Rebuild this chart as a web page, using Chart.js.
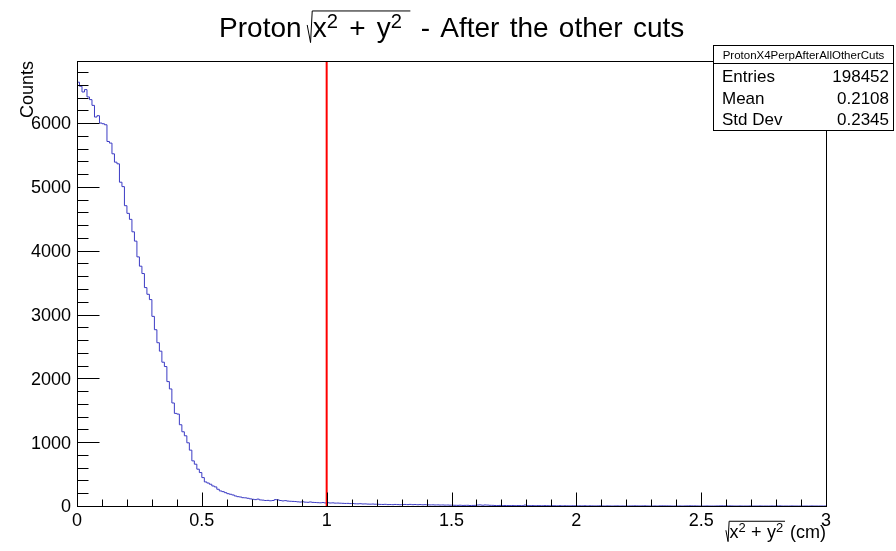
<!DOCTYPE html>
<html>
<head>
<meta charset="utf-8">
<script src="https://cdn.jsdelivr.net/npm/chart.js@4.4.1/dist/chart.umd.min.js"></script>
<style>
  html, body { margin: 0; padding: 0; background: #fff; }
</style>
</head>
<body>
<canvas id="chart" width="896" height="551"></canvas>
<script>
const FONT = "'Liberation Sans', Arial, sans-serif";

// histogram binning
const binLow = 0;
const binHigh = 3;
const nBins = 300;

// bin contents
const counts = [
  6640, 6576, 6487, 6524, 6409, 6367, 6277, 6094, 6115, 6000,
  5989, 5973, 5711, 5686, 5518, 5387, 5361, 5073, 5004, 4705,
  4585, 4491, 4296, 4150, 3903, 3757, 3642, 3422, 3317, 3234,
  2971, 2762, 2558, 2426, 2253, 2185, 1949, 1834, 1614, 1451,
  1440, 1273, 1163, 1100, 990, 875, 707, 655, 577, 524,
  445, 377, 360, 341, 314, 299, 262, 236, 225, 209,
  193, 184, 173, 157, 146, 141, 130, 128, 121, 112,
  105, 100, 108, 95, 92, 86, 88, 82, 86, 100,
  96, 86, 80, 84, 77, 74, 72, 70, 65, 62,
  66, 60, 58, 63, 57, 55, 52, 50, 54, 48,
  51, 47, 49, 45, 46, 44, 42, 40, 41, 38,
  39, 35, 34, 36, 32, 33, 30, 29, 31, 28,
  27, 25, 24, 26, 22, 23, 21, 24, 22, 20,
  23, 24, 22, 25, 21, 23, 20, 22, 19, 21,
  18, 17, 18, 16, 17, 15, 16, 14, 15, 13,
  12, 11, 10, 12, 9, 10, 11, 8, 9, 10,
  15, 17, 12, 16, 14, 11, 10, 8, 7, 9,
  6, 8, 7, 6, 8, 5, 7, 6, 5, 14,
  6, 5, 7, 4, 6, 5, 4, 6, 5, 3,
  5, 4, 3, 5, 2, 4, 3, 2, 4, 3,
  2, 3, 2, 4, 1, 3, 2, 1, 2, 3,
  1, 0, 2, 1, 0, 1, 2, 0, 1, 0,
  0, 1, 2, 3, 2, 1, 2, 3, 1, 0,
  0, 1, 0, 2, 3, 2, 2, 1, 0, 0,
  0, 1, 0, 1, 2, 3, 2, 2, 1, 0,
  0, 0, 1, 0, 0, 0, 1, 2, 3, 2,
  2, 2, 1, 0, 0, 1, 0, 0, 0, 1,
  0, 0, 0, 1, 0, 0, 0, 0, 1, 0,
  2, 2, 0, 0, 0, 0, 1, 0, 0, 0,
  0, 0, 0, 0, 1, 0, 0, 0, 0, 0
];

const cutValue = 1;

const xMajorTicks = [0, 0.5, 1, 1.5, 2, 2.5, 3];
const xTickLabels = ['0', '0.5', '1', '1.5', '2', '2.5', '3'];
const xMinorStep = 0.1;
const yMajorTicks = [0, 1000, 2000, 3000, 4000, 5000, 6000];
const yTickLabels = ['0', '1000', '2000', '3000', '4000', '5000', '6000'];
const yMinorStep = 200;

const statsName = 'ProtonX4PerpAfterAllOtherCuts';
const statsLabels = ['Entries', 'Mean', 'Std Dev'];
const statsValues = ['198452', '0.2108', '0.2345'];

const yMax = Math.max(...counts) * 1.05;
const binWidth = (binHigh - binLow) / nBins;

const histPoints = counts.map((c, i) => ({ x: binLow + i * binWidth, y: c }));
histPoints.push({ x: binHigh, y: counts[counts.length - 1] });

// draws  sqrt(x^2 + y^2)  with a radical sign, returns its width
function drawSqrt(ctx, x, base, size, gap, pad, dryRun) {
  const sup = size * 0.72;
  let cx = x + size * 0.2;
  const parts = [['x', 0], ['2', 1], ['+', 2], ['y', 0], ['2', 1]];
  parts.forEach(([t, kind]) => {
    ctx.font = (kind === 1 ? sup : size) + 'px ' + FONT;
    if (kind === 2) cx += size * gap;
    const w = ctx.measureText(t).width;
    if (!dryRun) {
      ctx.fillText(t, cx, kind === 1 ? base - size * 0.33 : base);
    }
    cx += w;
    if (kind === 2) cx += size * gap;
  });
  cx += size * pad;
  if (!dryRun) {
    ctx.beginPath();
    ctx.moveTo(x, base - size * 0.43);
    ctx.lineTo(x + size * 0.12, base + size * 0.2);
    ctx.lineTo(x + size * 0.18, base - size * 0.93);
    ctx.lineTo(cx, base - size * 0.93);
    ctx.lineWidth = 1;
    ctx.strokeStyle = '#000';
    ctx.stroke();
  }
  return cx - x;
}

// draws words with a little extra room between them, returns the width
function drawWords(ctx, text, x, base, extra, dryRun) {
  const sp = ctx.measureText(' ').width + extra;
  let cx = x;
  text.split(' ').forEach((w, i, arr) => {
    if (!dryRun && w) ctx.fillText(w, cx, base);
    cx += ctx.measureText(w).width;
    if (i < arr.length - 1) cx += sp;
  });
  return cx - x;
}

const rootFrame = {
  id: 'rootFrame',
  afterDraw(chart) {
    const ctx = chart.ctx;
    const xs = chart.scales.x;
    const ys = chart.scales.y;
    const a = chart.chartArea;
    const L = Math.round(a.left) + 0.5, R = Math.round(a.right) + 0.5;
    const T = Math.round(a.top) + 0.5, B = Math.round(a.bottom) + 0.5;

    ctx.save();
    ctx.strokeStyle = '#000';
    ctx.fillStyle = '#000';
    ctx.lineWidth = 1;
    ctx.strokeRect(L, T, R - L, B - T);

    // x ticks (inside)
    ctx.beginPath();
    for (let v = binLow; v <= binHigh + 1e-9; v += xMinorStep) {
      const px = Math.round(xs.getPixelForValue(v)) + 0.5;
      const major = xMajorTicks.some(m => Math.abs(m - v) < 1e-6);
      ctx.moveTo(px, B);
      ctx.lineTo(px, B - (major ? 14 : 7));
    }
    // y ticks (inside)
    for (let v = 0; v <= yMax; v += yMinorStep) {
      const py = Math.round(ys.getPixelForValue(v)) + 0.5;
      const major = v % 1000 === 0;
      ctx.moveTo(L, py);
      ctx.lineTo(L + (major ? 22 : 11), py);
    }
    ctx.stroke();

    ctx.font = '18px ' + FONT;
    ctx.textAlign = 'center';
    ctx.textBaseline = 'alphabetic';
    xMajorTicks.forEach((v, i) => {
      ctx.fillText(xTickLabels[i], xs.getPixelForValue(v), 526);
    });
    ctx.textAlign = 'right';
    yMajorTicks.forEach((v, i) => {
      ctx.fillText(yTickLabels[i], 71, ys.getPixelForValue(v) + 6.4);
    });

    // y title
    ctx.save();
    ctx.translate(33, 61);
    ctx.rotate(-Math.PI / 2);
    ctx.textAlign = 'right';
    ctx.fillText('Counts', 0, 0);
    ctx.restore();

    // x title, right aligned at the frame end
    ctx.textAlign = 'left';
    ctx.font = '18px ' + FONT;
    const cmW = ctx.measureText(' (cm)').width;
    const sqW = drawSqrt(ctx, 0, 0, 18, 0.3, 0.1, true);
    const xt0 = 826 - cmW - sqW;
    drawSqrt(ctx, xt0, 538, 18, 0.3, 0.1, false);
    ctx.font = '18px ' + FONT;
    ctx.fillText(' (cm)', xt0 + sqW, 538);

    // main title
    const ts = 28;
    ctx.font = ts + 'px ' + FONT;
    const pre = 'Proton';
    const post = ' - After the other cuts';
    const preW = ctx.measureText(pre).width + ts * 0.2;
    const postW = drawWords(ctx, post, 0, 0, 2.5, true);
    const midW = drawSqrt(ctx, 0, 0, ts, 0.4, 0.3, true);
    const tx = 451.7 - (preW + midW + postW) / 2;
    ctx.font = ts + 'px ' + FONT;
    ctx.fillText(pre, tx, 37);
    drawSqrt(ctx, tx + preW, 37, ts, 0.4, 0.3, false);
    ctx.font = ts + 'px ' + FONT;
    drawWords(ctx, post, tx + preW + midW, 37, 2.5, false);

    // stats box
    ctx.fillStyle = '#fff';
    ctx.fillRect(713.5, 45.5, 180, 85);
    ctx.strokeRect(713.5, 45.5, 180, 85);
    ctx.beginPath();
    ctx.moveTo(713.5, 63.5);
    ctx.lineTo(893.5, 63.5);
    ctx.stroke();
    ctx.fillStyle = '#000';
    ctx.font = '11.5px ' + FONT;
    ctx.textAlign = 'center';
    ctx.fillText(statsName, 803.5, 58.5);
    ctx.font = '17px ' + FONT;
    statsLabels.forEach((lab, i) => {
      const by = 82 + i * 21.5;
      ctx.textAlign = 'left';
      ctx.fillText(lab, 722, by);
      ctx.textAlign = 'right';
      ctx.fillText(statsValues[i], 889, by);
    });
    ctx.restore();
  }
};

new Chart(document.getElementById('chart'), {
  type: 'line',
  data: {
    datasets: [
      {
        label: 'cut',
        data: [{ x: cutValue, y: 0 }, { x: cutValue, y: yMax }],
        borderColor: '#ff0000',
        borderWidth: 2,
        pointRadius: 0,
      },
      {
        label: 'ProtonX4PerpAfterAllOtherCuts',
        data: histPoints,
        stepped: true,
        borderColor: '#3b3bc4',
        borderWidth: 1,
        pointRadius: 0,
        fill: false,
      },
    ],
  },
  options: {
    responsive: false,
    animation: false,
    layout: { padding: { left: 77, right: 70, top: 61, bottom: 45 } },
    plugins: {
      legend: { display: false },
      tooltip: { enabled: false },
    },
    scales: {
      x: { type: 'linear', min: binLow, max: binHigh, display: false },
      y: { type: 'linear', min: 0, max: yMax, display: false },
    },
  },
  plugins: [rootFrame],
});
</script>
</body>
</html>
